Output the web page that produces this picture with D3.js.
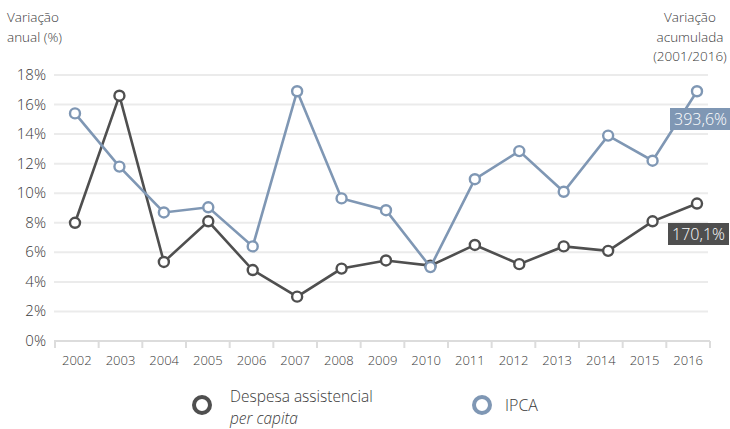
<!DOCTYPE html>
<html>
<head>
<meta charset="utf-8">
<script src="https://cdn.jsdelivr.net/npm/d3@7"></script>
<style>
  body { margin: 0; background: #fff; }
  svg { font-family: "Open Sans", sans-serif; font-weight: 300; }
  .tick text { fill: #3a3a3a; }
</style>
</head>
<body>
<div class="chart"></div>
<script>
var years = ["2002","2003","2004","2005","2006","2007","2008","2009","2010","2011","2012","2013","2014","2015","2016"];
var despesa = [8.0, 16.6, 5.35, 8.1, 4.8, 3.0, 4.9, 5.45, 5.1, 6.5, 5.2, 6.4, 6.1, 8.1, 9.3];
var ipca = [15.4, 11.8, 8.7, 9.05, 6.4, 16.9, 9.65, 8.85, 5.0, 10.95, 12.85, 10.1, 13.9, 12.2, 16.9];
var yTicks = [0, 2, 4, 6, 8, 10, 12, 14, 16, 18];
var acumulado = ["393,6%", "170,1%"];

var darkCol = "#4f4f4f", blueCol = "#7f97b4";

var svg = d3.select(".chart").append("svg")
	.attr("width", 730).attr("height", 429);

var y = d3.scaleLinear().domain([0, 18]).range([341, 75]);
var xBand = d3.scaleBand().domain(years).range([55, 710]);
var xPt = d3.scalePoint().domain(years).range([75, 697]);

// gridlines
svg.append("g").selectAll("line").data(yTicks.slice(1)).join("line")
	.attr("x1", 54).attr("x2", 708)
	.attr("y1", d => y(d)).attr("y2", d => y(d))
	.attr("stroke", "#ebebeb").attr("stroke-width", 2);

// y labels
svg.append("g").selectAll("text").data(yTicks).join("text")
	.attr("x", 46).attr("y", d => y(d) + 5)
	.attr("text-anchor", "end")
	.attr("font-size", 15).attr("fill", "#3a3a3a")
	.text(d => d + "%");

// x axis
var xAxis = svg.append("g").attr("transform", "translate(0,341)")
	.call(d3.axisBottom(xBand).tickSize(0).tickPadding(15));
xAxis.select(".domain").attr("stroke", "#dcdcdc").attr("stroke-width", 2)
	.attr("d", "M54,0H710");
xAxis.selectAll(".tick text").attr("font-size", 13).attr("font-family", "Open Sans").attr("font-weight", 300);
svg.append("g").selectAll("line").data(years.concat(["end"])).join("line")
	.attr("x1", (d, i) => 55 + i * xBand.step()).attr("x2", (d, i) => 55 + i * xBand.step())
	.attr("y1", 341).attr("y2", 348)
	.attr("stroke", "#dcdcdc").attr("stroke-width", 2);

function drawSeries(vals, col) {
	var line = d3.line().x((d, i) => xPt(years[i])).y(d => y(d));
	svg.append("path").datum(vals)
		.attr("d", line).attr("fill", "none")
		.attr("stroke", col).attr("stroke-width", 2.6);
	svg.append("g").selectAll("circle").data(vals).join("circle")
		.attr("cx", (d, i) => xPt(years[i])).attr("cy", d => y(d))
		.attr("r", 5).attr("fill", "#fff")
		.attr("stroke", col).attr("stroke-width", 2.4);
}
drawSeries(despesa, darkCol);
drawSeries(ipca, blueCol);

// accumulated labels
var boxes = [
	{ text: acumulado[0], col: blueCol, x: 670, y: 108 },
	{ text: acumulado[1], col: darkCol, x: 668, y: 223 }
];
boxes.forEach(function(b) {
	svg.append("rect").attr("x", b.x).attr("y", b.y).attr("width", 61).attr("height", 22)
		.attr("fill", b.col);
	svg.append("text").attr("x", b.x + 30.5).attr("y", b.y + 17)
		.attr("text-anchor", "middle").attr("font-size", 16).attr("fill", "#fff")
		.text(b.text);
});

// titles
var t1 = svg.append("text").attr("font-size", 13.5).attr("fill", "#3a3a3a");
t1.append("tspan").attr("x", 7).attr("y", 22).text("Variação");
t1.append("tspan").attr("x", 7).attr("y", 42).text("anual (%)");
var t2 = svg.append("text").attr("font-size", 13.5).attr("fill", "#3a3a3a").attr("text-anchor", "middle");
t2.append("tspan").attr("x", 690).attr("y", 22).text("Variação");
t2.append("tspan").attr("x", 690).attr("y", 42).text("acumulada");
t2.append("tspan").attr("x", 690).attr("y", 61).text("(2001/2016)");

// legend
svg.append("circle").attr("cx", 202).attr("cy", 405).attr("r", 8)
	.attr("fill", "#fff").attr("stroke", darkCol).attr("stroke-width", 4);
svg.append("text").attr("x", 230).attr("y", 402).attr("font-size", 15.5).attr("fill", "#3a3a3a")
	.text("Despesa assistencial");
svg.append("text").attr("x", 230).attr("y", 424).attr("font-size", 15.5).attr("fill", "#3a3a3a")
	.attr("font-style", "italic").text("per capita");
svg.append("circle").attr("cx", 482).attr("cy", 405).attr("r", 8)
	.attr("fill", "#fff").attr("stroke", blueCol).attr("stroke-width", 4);
svg.append("text").attr("x", 505).attr("y", 411).attr("font-size", 16).attr("fill", "#3a3a3a")
	.text("IPCA");
</script>
</body>
</html>
